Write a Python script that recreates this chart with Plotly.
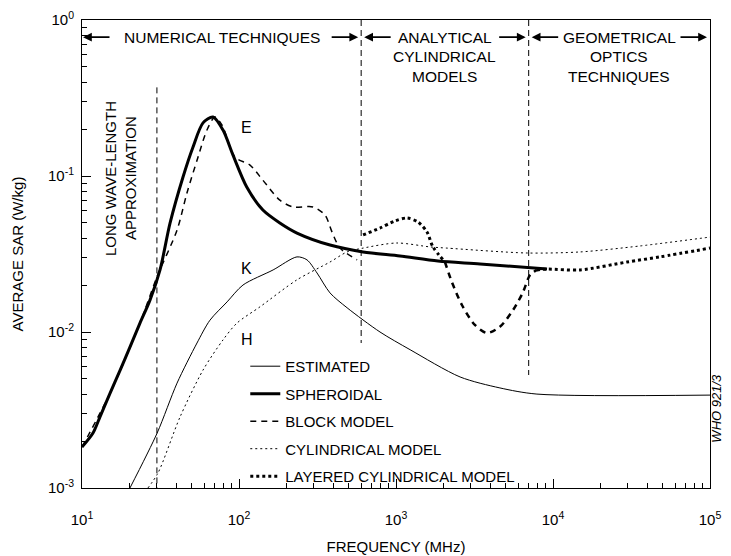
import math
import plotly.graph_objects as go

FONT = "Liberation Sans, Arial, Helvetica, sans-serif"

# ---- data (frequency in MHz, SAR in W/kg) ----
sph_f = [10, 11.75, 13.0, 15.1, 17.5, 20.2, 23.4, 27.1, 31.4, 36.4, 44.0, 50.9, 59.0, 68.3, 79.1, 91.6,
         112, 142, 182, 234, 380, 617, 1060, 1850, 3430, 9160]
sph_s = [0.00183, 0.00225, 0.00285, 0.00406, 0.0057, 0.0080, 0.0114, 0.0160, 0.0250, 0.050, 0.0986, 0.153,
         0.219, 0.239, 0.197, 0.136, 0.085, 0.0605, 0.050, 0.0431, 0.0361, 0.0326, 0.0307, 0.0285, 0.0273, 0.0253]

blk_f = [10, 15.1, 23.4, 30.0, 40.3, 46.6, 54.8, 62.5, 70.3, 78.0, 94.4, 117, 142, 182, 221, 296, 353, 391, 440, 565]
blk_s = [0.00183, 0.00406, 0.0114, 0.0225, 0.045, 0.0778, 0.132, 0.197, 0.239, 0.212, 0.132, 0.118, 0.094,
         0.070, 0.0633, 0.0633, 0.0562, 0.0438, 0.0345, 0.029]

cyl_f = [26.3, 30.5, 42.1, 59.0, 79.1, 97.0, 136, 234, 380, 488, 617, 1010, 1650, 2110, 6820, 14900, 35800, 100000]
cyl_s = [0.001, 0.00125, 0.00285, 0.0057, 0.0089, 0.0114, 0.0145, 0.0216, 0.0281, 0.0326, 0.0345, 0.0372,
         0.0351, 0.0345, 0.0321, 0.0326, 0.0356, 0.0406]

est_f = [20.2, 30.1, 40.3, 54.0, 65.3, 84.0, 106, 165, 234, 271, 314, 380, 488, 791, 1230, 2560, 4590, 7900, 100000]
est_s = [0.001, 0.00225, 0.0047, 0.0085, 0.0119, 0.0156, 0.020, 0.025, 0.0303, 0.029, 0.0239, 0.0178, 0.0143,
         0.0100, 0.0077, 0.00515, 0.00438, 0.0040, 0.00394]

lay_f = [617, 791, 986, 1175, 1380, 1575, 1720, 2050]
lay_s = [0.0419, 0.0464, 0.0515, 0.0538, 0.0507, 0.0438, 0.0351, 0.0281]
dip_f = [2050, 2270, 2630, 3180, 3800, 4590, 5560, 6440, 7140, 7900]
dip_s = [0.0281, 0.0209, 0.0149, 0.0111, 0.00986, 0.0108, 0.0138, 0.018, 0.0232, 0.025]
lay2_f = [7900, 9160, 14900, 29600, 48000, 100000]
lay2_s = [0.025, 0.0253, 0.025, 0.0281, 0.0303, 0.0345]

region_bounds = [10, 600, 7000, 100000]
region_lines = [(30, 0.37, 0.001), (600, 1.0, 0.0085), (7000, 1.0, 0.0053)]

x_ticks = [10, 100, 1000, 10000, 100000]
x_ticktext = ["10<sup>1</sup>", "10<sup>2</sup>", "10<sup>3</sup>", "10<sup>4</sup>", "10<sup>5</sup>"]
y_ticks = [0.001, 0.01, 0.1, 1]
y_ticktext = ["10<sup>-3</sup>", "10<sup>-2</sup>", "10<sup>-1</sup>", "10<sup>0</sup>"]

fig = go.Figure()

def add(x, y, name, width, dash, show=True, group=None):
    fig.add_trace(go.Scatter(x=x, y=y, mode="lines", name=name, showlegend=show,
                             legendgroup=group or name,
                             line=dict(color="black", width=width, dash=dash, shape="spline", smoothing=0.8)))

add(est_f, est_s, "ESTIMATED", 1, "solid")
add(sph_f, sph_s, "SPHEROIDAL", 3, "solid")
add(blk_f, blk_s, "BLOCK MODEL", 1.5, "6px,5px")
add(cyl_f, cyl_s, "CYLINDRICAL MODEL", 1, "2px,3px")
add(lay_f, lay_s, "LAYERED CYLINDRICAL MODEL", 3, "3px,3px")
add(dip_f, dip_s, "LAYERED CYLINDRICAL MODEL", 2.5, "6px,5px", show=False, group="LAYERED CYLINDRICAL MODEL")
add(lay2_f, lay2_s, "LAYERED CYLINDRICAL MODEL", 3, "3px,3px", show=False, group="LAYERED CYLINDRICAL MODEL")

shapes = []
for xv, y0, y1 in region_lines:
    shapes.append(dict(type="line", xref="x", yref="y", x0=xv, x1=xv, y0=y0, y1=y1,
                       line=dict(color="black", width=1, dash="6px,4px")))

ann = []
lg = [math.log10(b) for b in region_bounds]
px = 4.0 / 628.0
ann_font = dict(family=FONT, size=15.5, color="black")
rows = [-0.11, -0.237, -0.365]
for i in range(3):
    left = lg[i] + (1 if i == 0 else 3) * px
    right = lg[i + 1] - 3 * px
    for head, off in ((left, 28), (right, -28)):
        ann.append(dict(x=head, y=rows[0], xref="x", yref="y", text="", showarrow=True,
                        ax=off, ay=0, arrowhead=2, arrowsize=1.1, arrowwidth=1.6, arrowcolor="black"))
region_texts = [["NUMERICAL TECHNIQUES"], ["ANALYTICAL", "CYLINDRICAL", "MODELS"],
                ["GEOMETRICAL", "OPTICS", "TECHNIQUES"]]
for i, lines in enumerate(region_texts):
    cx = (lg[i] + lg[i + 1]) / 2
    for j, t in enumerate(lines):
        ann.append(dict(x=cx, y=rows[j], xref="x", yref="y", text=t, showarrow=False, font=ann_font))

lab_font = dict(family=FONT, size=16, color="black")
ann.append(dict(x=2.05, y=-0.692, xref="x", yref="y", text="E", showarrow=False, font=lab_font))
ann.append(dict(x=2.05, y=-1.590, xref="x", yref="y", text="K", showarrow=False, font=lab_font))
ann.append(dict(x=2.05, y=-2.051, xref="x", yref="y", text="H", showarrow=False, font=lab_font))
rot_font = dict(family=FONT, size=15, color="black")
ann.append(dict(x=1.178, y=-1.013, xref="x", yref="y", text="LONG WAVE-LENGTH", textangle=-90,
                showarrow=False, font=rot_font))
ann.append(dict(x=1.306, y=-1.013, xref="x", yref="y", text="APPROXIMATION", textangle=-90,
                showarrow=False, font=rot_font))
ann.append(dict(x=1.025, y=0.092, xref="paper", yref="paper", text="<i>WHO 921/3</i>", textangle=-90,
                showarrow=False, font=dict(family=FONT, size=13, color="black")))

minor_x = [m * 10 ** d for d in range(1, 5) for m in range(2, 10)]
minor_y = [m * 10 ** d for d in range(-3, 0) for m in range(2, 10)]

# page body has an 8px margin, so the figure is sized/offset to land the plot area at the reference spot
fig.update_layout(
    width=723, height=548,
    margin=dict(l=74, r=21, t=12, b=68, autoexpand=False),
    paper_bgcolor="white", plot_bgcolor="white",
    font=dict(family=FONT, size=14, color="black"),
    shapes=shapes, annotations=ann,
    legend=dict(x=0.26, y=0.295, xanchor="left", yanchor="top", bgcolor="rgba(0,0,0,0)",
                font=dict(family=FONT, size=15, color="black"), traceorder="grouped",
                tracegroupgap=5, itemwidth=30),
    xaxis=dict(type="log", range=[1, 5], showgrid=False, zeroline=False, automargin=False,
               showline=True, linecolor="black", linewidth=1, mirror=True,
               ticks="inside", ticklen=9, tickwidth=1, tickcolor="black",
               tickvals=x_ticks, ticktext=x_ticktext, ticklabelstandoff=18, ticklabeloverflow="allow",
               tickfont=dict(family=FONT, size=15),
               minor=dict(tickvals=minor_x, ticks="inside", ticklen=5, tickcolor="black", showgrid=False),
               title=dict(text="FREQUENCY (MHz)", font=dict(family=FONT, size=15), standoff=14)),
    yaxis=dict(type="log", range=[-3, 0], showgrid=False, zeroline=False, automargin=False,
               showline=True, linecolor="black", linewidth=1, mirror=True,
               ticks="inside", ticklen=9, tickwidth=1, tickcolor="black",
               tickvals=y_ticks, ticktext=y_ticktext, ticklabelstandoff=4, ticklabeloverflow="allow",
               tickfont=dict(family=FONT, size=15),
               minor=dict(tickvals=minor_y, ticks="inside", ticklen=5, tickcolor="black", showgrid=False),
               title=dict(text="AVERAGE SAR (W/kg)", font=dict(family=FONT, size=15), standoff=20)),
)

fig.write_html("out.html")
